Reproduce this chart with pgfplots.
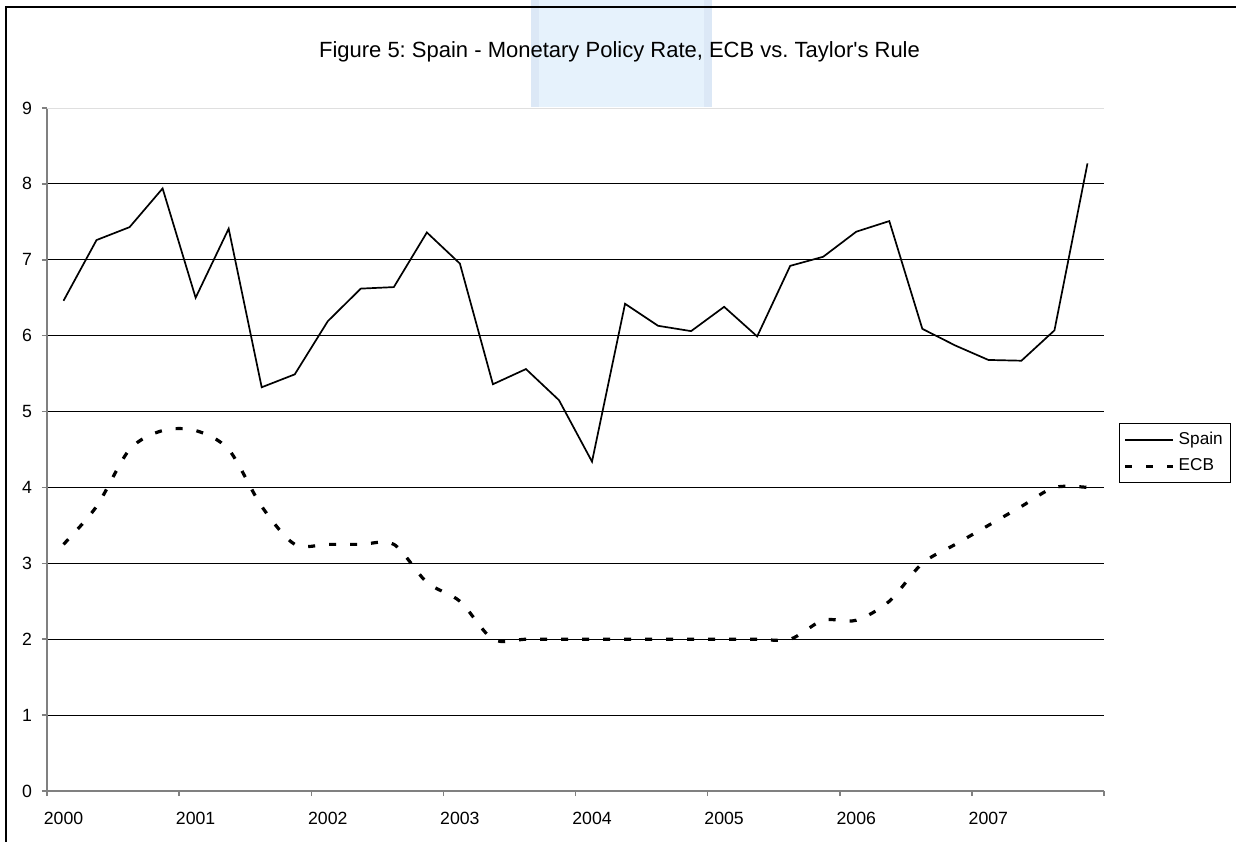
\documentclass[border=0pt]{standalone}
\usepackage{fontspec}
\setmainfont{Liberation Sans}[Ligatures=TeXOff]
\usepackage{pgfplots}
\usepackage{pgfplotstable}
\pgfplotsset{compat=1.18}
\definecolor{wm}{RGB}{230,242,252}
\definecolor{wmedge}{RGB}{220,232,246}
\pgfplotstableread{
x spain ecb
0.5 6.46 3.25
1.5 7.26 3.75
2.5 7.43 4.50
3.5 7.94 4.75
4.5 6.50 4.75
5.5 7.41 4.50
6.5 5.32 3.75
7.5 5.49 3.25
8.5 6.19 3.25
9.5 6.62 3.25
10.5 6.64 3.25
11.5 7.36 2.75
12.5 6.95 2.50
13.5 5.36 2.00
14.5 5.56 2.00
15.5 5.15 2.00
16.5 4.34 2.00
17.5 6.42 2.00
18.5 6.13 2.00
19.5 6.06 2.00
20.5 6.38 2.00
21.5 5.99 2.00
22.5 6.92 2.00
23.5 7.04 2.25
24.5 7.37 2.25
25.5 7.51 2.50
26.5 6.09 3.00
27.5 5.87 3.25
28.5 5.68 3.50
29.5 5.67 3.75
30.5 6.07 4.00
31.5 8.27 4.00
}\datatable
\begin{document}
\frenchspacing
\begin{tikzpicture}
\useasboundingbox (-23.5pt,-25pt) rectangle (594.5pt,395.5pt);
% faint watermark behind the title
\fill[wm] (242pt,342pt) rectangle (332.5pt,395.5pt);
\fill[wmedge] (242pt,342pt) rectangle (246pt,395.5pt);
\fill[wmedge] (328.5pt,342pt) rectangle (332.5pt,395.5pt);
% chart area border (left and top)
\draw[black, line width=0.8pt] (-20.5pt,-30pt) -- (-20.5pt,392pt) -- (600pt,392pt);
\begin{axis}[
  scale only axis,
  width=528.5pt, height=341.5pt,
  anchor=south west, at={(0,0)},
  xmin=0, xmax=32, ymin=0, ymax=9,
  axis lines*=left,
  axis line style={gray, line width=0.75pt},
  tick style={gray, line width=0.75pt},
  tick align=outside,
  major tick length=2.5pt,
  xtick={0,4,...,32}, xticklabels={},
  extra x ticks={0.5,4.5,...,28.5},
  extra x tick labels={2000,2001,2002,2003,2004,2005,2006,2007},
  extra x tick style={major tick length=0pt, grid=none,
     xticklabel style={yshift=-6.9pt}},
  ytick={1,...,8},
  extra y ticks={0,9},
  extra y tick style={grid=none},
  ymajorgrids,
  major grid style={black, line width=0.5pt},
  yticklabel style={xshift=-1.5pt},
  ticklabel style={font=\fontsize{8.85}{10}\selectfont},
  /pgf/number format/assume math mode=true,
  legend style={at={(1.0142,0.5392)}, anchor=north west, draw=black,
     line width=0.5pt, font=\fontsize{8.6}{10}\selectfont,
     inner xsep=2pt, inner ysep=2.5pt, row sep=1.5pt},
  legend cell align=left,
  legend image code/.code={\draw[#1] (0pt,0pt) -- (24pt,0pt);},
]
\draw[gray!25, line width=0.6pt] (axis cs:0,9) -- (axis cs:32,9);
\addplot[black, line width=0.85pt] table[x=x, y=spain] {\datatable};
\addlegendentry{Spain}
\addplot[black, line width=1.6pt, dash pattern=on 3.5pt off 7pt, smooth, tension=0.5] table[x=x, y=ecb] {\datatable};
\addlegendentry{ECB}
\end{axis}
\node[font=\fontsize{11}{13}\selectfont] at (286.25pt,369.5pt) {Figure 5: Spain - Monetary Policy Rate, ECB vs. Taylor's Rule};
\end{tikzpicture}
\end{document}
